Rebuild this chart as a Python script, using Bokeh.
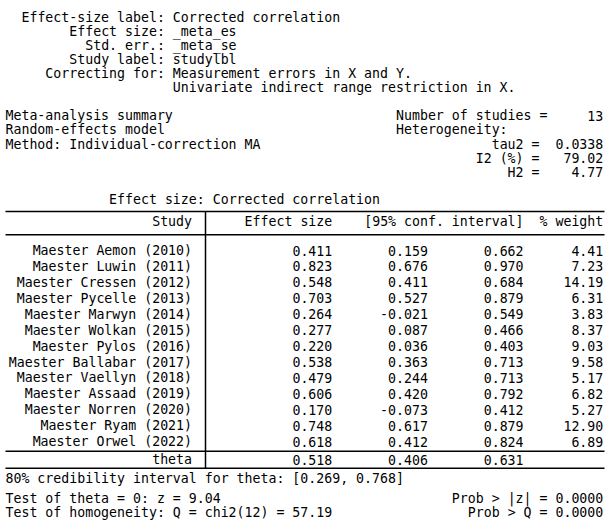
from bokeh.plotting import figure
from bokeh.models import ColumnDataSource, Range1d
from bokeh.core.properties import value
from bokeh.embed import file_html
from bokeh.resources import INLINE

# ---------------- data ----------------
studies = ["Maester Aemon (2010)", "Maester Luwin (2011)", "Maester Cressen (2012)",
           "Maester Pycelle (2013)", "Maester Marwyn (2014)", "Maester Wolkan (2015)",
           "Maester Pylos (2016)", "Maester Ballabar (2017)", "Maester Vaellyn (2018)",
           "Maester Assaad (2019)", "Maester Norren (2020)", "Maester Ryam (2021)",
           "Maester Orwel (2022)"]
effect = [0.411, 0.823, 0.548, 0.703, 0.264, 0.277, 0.220, 0.538, 0.479, 0.606, 0.170, 0.748, 0.618]
ci_low = [0.159, 0.676, 0.411, 0.527, -0.021, 0.087, 0.036, 0.363, 0.244, 0.420, -0.073, 0.617, 0.412]
ci_high = [0.662, 0.970, 0.684, 0.879, 0.549, 0.466, 0.403, 0.713, 0.713, 0.792, 0.412, 0.879, 0.824]
weight = [4.41, 7.23, 14.19, 6.31, 3.83, 8.37, 9.03, 9.58, 5.17, 6.82, 5.27, 12.90, 6.89]

theta_est = [0.518, 0.406, 0.631]
n_studies = 13
tau2 = 0.0338
i2 = 79.02
h2 = 4.77
cred_int = [0.269, 0.768]
z_stat = 9.04
p_z = 0.0
q_stat = 57.19
q_df = 12
p_q = 0.0

header_cols = ["Study", "Effect size", "[95% conf. interval]", "% weight"]

# ---------------- layout helpers ----------------
W, H = 608, 532
CW = 7.97          # monospace advance
X0 = 5.0           # left of column 0
FS = "13.24px"
FONT = "DejaVu Sans Mono"


def col(c):
    return X0 + CW * c


left_items = []   # (text, x, y)
right_items = []

# header block
top_step = 14.1
top_y0 = 16.5
left_items += [
    ("Effect-size label: Corrected correlation", col(2), top_y0),
    ("Effect size: _meta_es", col(8), top_y0 + top_step),
    ("Std. err.: _meta_se", col(10), top_y0 + 2 * top_step),
    ("Study label: studylbl", col(8), top_y0 + 3 * top_step),
    ("Correcting for: Measurement errors in X and Y.", col(5), top_y0 + 4 * top_step),
    ("Univariate indirect range restriction in X.", col(21), top_y0 + 5 * top_step),
]

# meta summary block
m0 = 115.3
left_items += [
    ("Meta-analysis summary", col(0), m0),
    ("Number of studies =", col(49), m0),
    ("Random-effects model", col(0), m0 + top_step),
    ("Heterogeneity:", col(49), m0 + top_step),
    ("Method: Individual-correction MA", col(0), m0 + 2 * top_step),
]
right_items += [
    (f"{n_studies}", col(75), m0),
    ("tau2 =", col(67), m0 + 2 * top_step),
    (f"{tau2:.4f}", col(75), m0 + 2 * top_step),
    ("I2 (%) =", col(67), m0 + 3 * top_step),
    (f"{i2:.2f}", col(75), m0 + 3 * top_step),
    ("H2 =", col(67), m0 + 4 * top_step),
    (f"{h2:.2f}", col(75), m0 + 4 * top_step),
]

# table
label_right = 191.5
left_items.append(("Effect size: Corrected correlation", col(13), 198.5))
hdr_y = 221.0
right_items += [
    (header_cols[0], label_right, hdr_y),
    (header_cols[1], col(41), hdr_y),
    (header_cols[2], col(65), hdr_y),
    (header_cols[3], col(75), hdr_y),
]

row_y0, row_step = 250.0, 15.93
rows = ColumnDataSource(dict(
    y=[row_y0 + row_step * k for k in range(len(studies))],
    study=studies,
    es=[f"{v:.3f}" for v in effect],
    lo=[f"{v:.3f}" for v in ci_low],
    hi=[f"{v:.3f}" for v in ci_high],
    wt=[f"{v:.2f}" for v in weight],
))

theta_y = 459.3
right_items += [
    ("theta", label_right, theta_y),
    (f"{theta_est[0]:.3f}", col(41), theta_y),
    (f"{theta_est[1]:.3f}", col(53), theta_y),
    (f"{theta_est[2]:.3f}", col(65), theta_y),
]

# footer
left_items += [
    (f"80% credibility interval for theta: [{cred_int[0]:.3f}, {cred_int[1]:.3f}]", col(0), 478.3),
    (f"Test of theta = 0: z = {z_stat:.2f}", col(0), 497.7),
    (f"Test of homogeneity: Q = chi2({q_df}) = {q_stat:.2f}", col(0), 511.7),
]
right_items += [
    (f"Prob > |z| = {p_z:.4f}", col(75), 497.7),
    (f"Prob > Q = {p_q:.4f}", col(75), 511.7),
]

# ---------------- figure ----------------
p = figure(width=W, height=H, output_backend="svg", toolbar_location=None,
           x_range=Range1d(0, W), y_range=Range1d(H, 0),
           x_axis_location=None, y_axis_location=None,
           min_border=0, outline_line_color=None)
p.grid.visible = False
p.background_fill_color = "white"
p.border_fill_color = "white"

common = dict(text_font=value(FONT), text_font_size=FS, text_color="#000000",
              text_baseline="middle")

lsrc = ColumnDataSource(dict(t=[a[0] for a in left_items], x=[a[1] for a in left_items],
                             y=[a[2] for a in left_items]))
rsrc = ColumnDataSource(dict(t=[a[0] for a in right_items], x=[a[1] for a in right_items],
                             y=[a[2] for a in right_items]))
p.text(x="x", y="y", text="t", source=lsrc, text_align="left", **common)
p.text(x="x", y="y", text="t", source=rsrc, text_align="right", **common)

# table rows
p.text(x=label_right, y="y", text="study", source=rows, text_align="right", **common)
p.text(x=col(41), y="y", text="es", source=rows, text_align="right", **common)
p.text(x=col(53), y="y", text="lo", source=rows, text_align="right", **common)
p.text(x=col(65), y="y", text="hi", source=rows, text_align="right", **common)
p.text(x=col(75), y="y", text="wt", source=rows, text_align="right", **common)

# rules
x_left, x_right = 5.0, 604.0
hl = [211.0, 234.3, 450.7, 467.7]
p.segment(x0=[x_left] * 4, x1=[x_right] * 4, y0=hl, y1=hl,
          line_color="#000000", line_width=1.5)
p.segment(x0=[205.0], x1=[205.0], y0=[211.0], y1=[467.7],
          line_color="#000000", line_width=1.5)

open("out.html", "w").write(file_html(p, INLINE))
